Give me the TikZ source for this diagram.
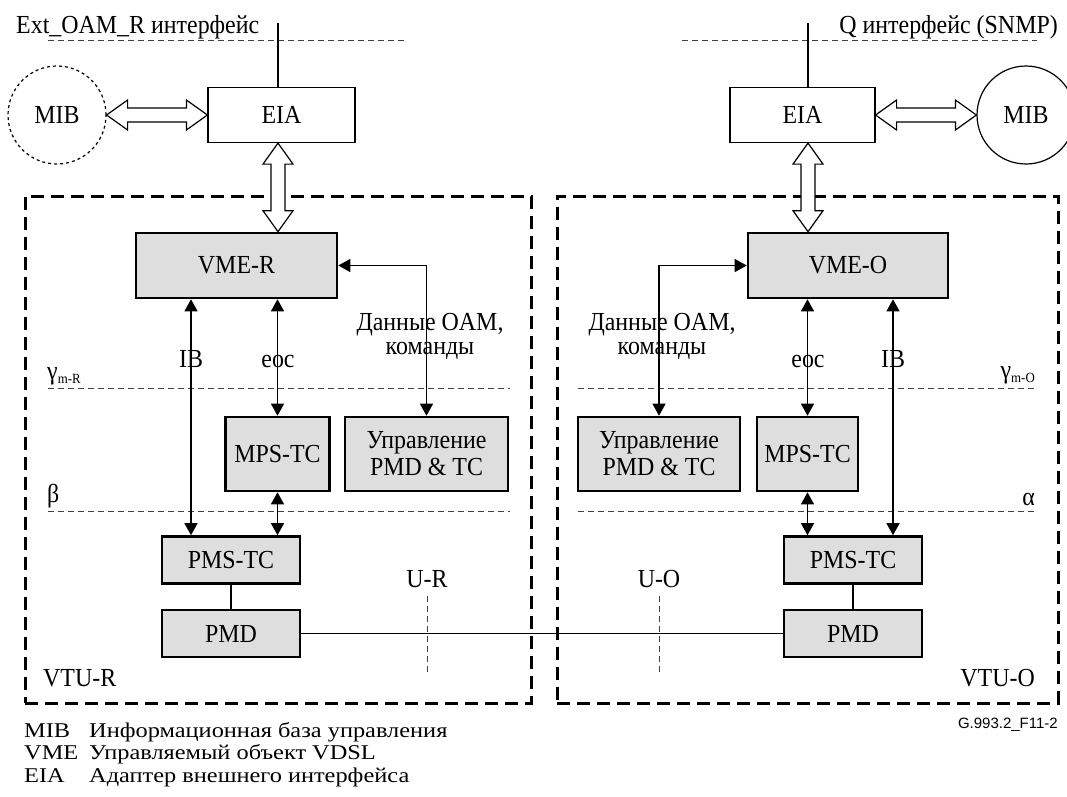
\documentclass[tikz,border=0pt]{standalone}
\usepackage{fontspec}
\setmainfont{Liberation Serif}[FakeStretch=0.92]
\newfontfamily\keyfont{Liberation Serif}[FakeStretch=1.16]
\newfontfamily\figsans{Liberation Sans}
\usepackage{tikz}
\usetikzlibrary{arrows.meta, positioning, calc}
\definecolor{blockgray}{gray}{0.87}
\definecolor{refgray}{gray}{0.25}

\newcommand{\hollowh}[2]{%
  \draw[hollow] let \p1=(#1), \p2=(#2) in
    (\x1,\y1) -- (\x1+21pt,\y1+15pt) -- (\x1+21pt,\y1+7pt) -- (\x2-21pt,\y2+7pt)
    -- (\x2-21pt,\y2+15pt) -- (\x2,\y2) -- (\x2-21pt,\y2-15pt) -- (\x2-21pt,\y2-7pt)
    -- (\x1+21pt,\y1-7pt) -- (\x1+21pt,\y1-15pt) -- cycle;}
\newcommand{\hollowv}[2]{%
  \draw[hollow] let \p1=(#1), \p2=(#2) in
    (\x1,\y1) -- (\x1+15pt,\y1-21pt) -- (\x1+7pt,\y1-21pt) -- (\x2+7pt,\y2+21pt)
    -- (\x2+15pt,\y2+21pt) -- (\x2,\y2) -- (\x2-15pt,\y2+21pt) -- (\x2-7pt,\y2+21pt)
    -- (\x1-7pt,\y1-21pt) -- (\x1-15pt,\y1-21pt) -- cycle;}

\begin{document}
\begin{tikzpicture}[x=1pt, y=-1pt,
    every node/.style={font=\fontsize{26}{26}\selectfont, inner sep=0pt},
    eiabox/.style={rectangle, draw, line width=1.2pt, fill=white, minimum width=#1, minimum height=55pt},
    vtubox/.style={rectangle, draw, line width=2.6pt, fill=blockgray, align=center, minimum width=#1},
    mibcircle/.style={circle, draw, line width=1.2pt, minimum size=98pt},
    unitframe/.style={rectangle, draw, line width=3pt, dash pattern=on 13pt off 7pt, minimum height=507pt, minimum width=#1},
    refline/.style={draw=refgray, line width=1pt, dash pattern=on 6pt off 4pt},
    link/.style={line width=1.2pt},
    twoway/.style={{Triangle[length=12pt,width=13pt]}-{Triangle[length=12pt,width=13pt]}, line width=1.2pt},
    hollow/.style={draw, line width=1.2pt, fill=white},
    legend/.style={anchor=base west, font=\keyfont\fontsize{21}{21}\selectfont, text height=15pt, text depth=5pt}
]
\useasboundingbox (0,0) rectangle (1067,796);

\node[unitframe=506pt] (vtuR) at (278,449.5) {};
\node[unitframe=501pt] (vtuO) at (807.5,449.5) {};

\node[anchor=base west] (extlabel) at (16,33) {Ext\_OAM\_R интерфейс};
\node[anchor=base east] (qlabel) at (1058,33) {Q интерфейс (SNMP)};
\draw[refline] (48,40) -- (406,40);
\draw[refline] (682,40) -- (1037,40);

\node[mibcircle, dashed] (mibR) at (57,115) {MIB};
\node[eiabox=147pt] (eiaR) at (281.5,115) {EIA};
\node[vtubox=201pt, minimum height=65pt] (vmeR) at (236.5,265.5) {VME-R};
\node[vtubox=104pt, minimum height=74pt] (mpsR) at (277.5,454) {MPS-TC};
\node[vtubox=163pt, minimum height=74pt, font=\fontsize{26}{27}\selectfont] (ctlR) at (426.5,454) {Управление\\PMD \& TC};
\node[vtubox=138pt, minimum height=47pt] (pmsR) at (231,560) {PMS-TC};
\node[vtubox=138pt, minimum height=47pt] (pmdR) at (231,633.5) {PMD};

\node[mibcircle] (mibO) at (1026,115) {MIB};
\node[eiabox=145pt] (eiaO) at (802.5,115) {EIA};
\node[vtubox=200pt, minimum height=65pt] (vmeO) at (848,265.5) {VME-O};
\node[vtubox=101pt, minimum height=74pt] (mpsO) at (807.5,454) {MPS-TC};
\node[vtubox=162pt, minimum height=74pt, font=\fontsize{26}{27}\selectfont] (ctlO) at (659,454) {Управление\\PMD \& TC};
\node[vtubox=138pt, minimum height=47pt] (pmsO) at (853,560) {PMS-TC};
\node[vtubox=138pt, minimum height=47pt] (pmdO) at (853,633.5) {PMD};

\coordinate (feedR) at (278,23);
\coordinate (feedO) at (808,23);
\coordinate (ibR) at (191,0);
\coordinate (ibO) at (893,0);

\draw[link] (feedR) -- (feedR |- eiaR.north);
\draw[link] (feedO) -- (feedO |- eiaO.north);
\hollowh{mibR.east}{eiaR.west}
\hollowh{eiaO.east}{mibO.west}
\hollowv{feedR |- eiaR.south}{feedR |- vmeR.north}
\hollowv{feedO |- eiaO.south}{feedO |- vmeO.north}

\draw[refline] (48,388) -- (510,388);
\draw[refline] (48,511) -- (510,511);
\draw[refline] (578,388) -- (1036,388);
\draw[refline] (578,511) -- (1036,511);

\draw[twoway] (ibR |- vmeR.south) -- (ibR |- pmsR.north);
\draw[twoway] (vmeR.south -| mpsR) -- (mpsR.north);
\draw[twoway] (mpsR.south) -- (mpsR.south |- pmsR.north);
\draw[twoway] (vmeR.east) -| (ctlR.north);
\draw[twoway] (ibO |- vmeO.south) -- (ibO |- pmsO.north);
\draw[twoway] (vmeO.south -| mpsO) -- (mpsO.north);
\draw[twoway] (mpsO.south) -- (mpsO.south |- pmsO.north);
\draw[twoway] (vmeO.west) -| (ctlO.north);
\draw[link] (pmsR.south) -- (pmdR.north);
\draw[link] (pmsO.south) -- (pmdO.north);
\draw[link] (pmdR.east) -- (pmdO.west);

\node[anchor=base] (ibRlabel) at (191,367) {IB};
\node[anchor=base] (eocRlabel) at (278,367) {eoc};
\node[anchor=base] (eocOlabel) at (808,367) {eoc};
\node[anchor=base] (ibOlabel) at (893,367) {IB};
\node[align=center, font=\fontsize{26}{24}\selectfont] (oamR) at (430,336) {Данные OAM,\\команды};
\node[align=center, font=\fontsize{26}{24}\selectfont] (oamO) at (662,336) {Данные OAM,\\команды};

\node[anchor=base west] (gammaR) at (47,379) {γ{\fontsize{14}{14}\selectfont\raisebox{-4pt}{m-R}}};
\node[anchor=base east] (gammaO) at (1035,378) {γ{\fontsize{14}{14}\selectfont\raisebox{-4pt}{m-O}}};
\node[anchor=base west] (betaR) at (47,502) {β};
\node[anchor=base east] (alphaO) at (1035,505) {α};

\node[anchor=base] (urlabel) at (427,587) {U-R};
\node[anchor=base] (uolabel) at (659,587) {U-O};
\draw[refline] ([yshift=-9pt]urlabel.south) -- ++(0,76);
\draw[refline] ([yshift=-9pt]uolabel.south) -- ++(0,76);

\node[anchor=base west] (vtuRlabel) at (43,686) {VTU-R};
\node[anchor=base east] (vtuOlabel) at (1035,686) {VTU-O};
\node[anchor=base east, font=\figsans\fontsize{15}{17}\selectfont] (figid) at (1058,728) {G.993.2\_F11-2};

\node[legend] (mibkey) at (24,737) {MIB};
\node[legend] (vmekey) at (24,759) {VME};
\node[legend] (eiakey) at (24,782) {EIA};
\node[legend] (mibtext) at (89,737) {Информационная база управления};
\node[legend] (vmetext) at (89,759) {Управляемый объект VDSL};
\node[legend] (eiatext) at (89,782) {Адаптер внешнего интерфейса};
\end{tikzpicture}
\end{document}
